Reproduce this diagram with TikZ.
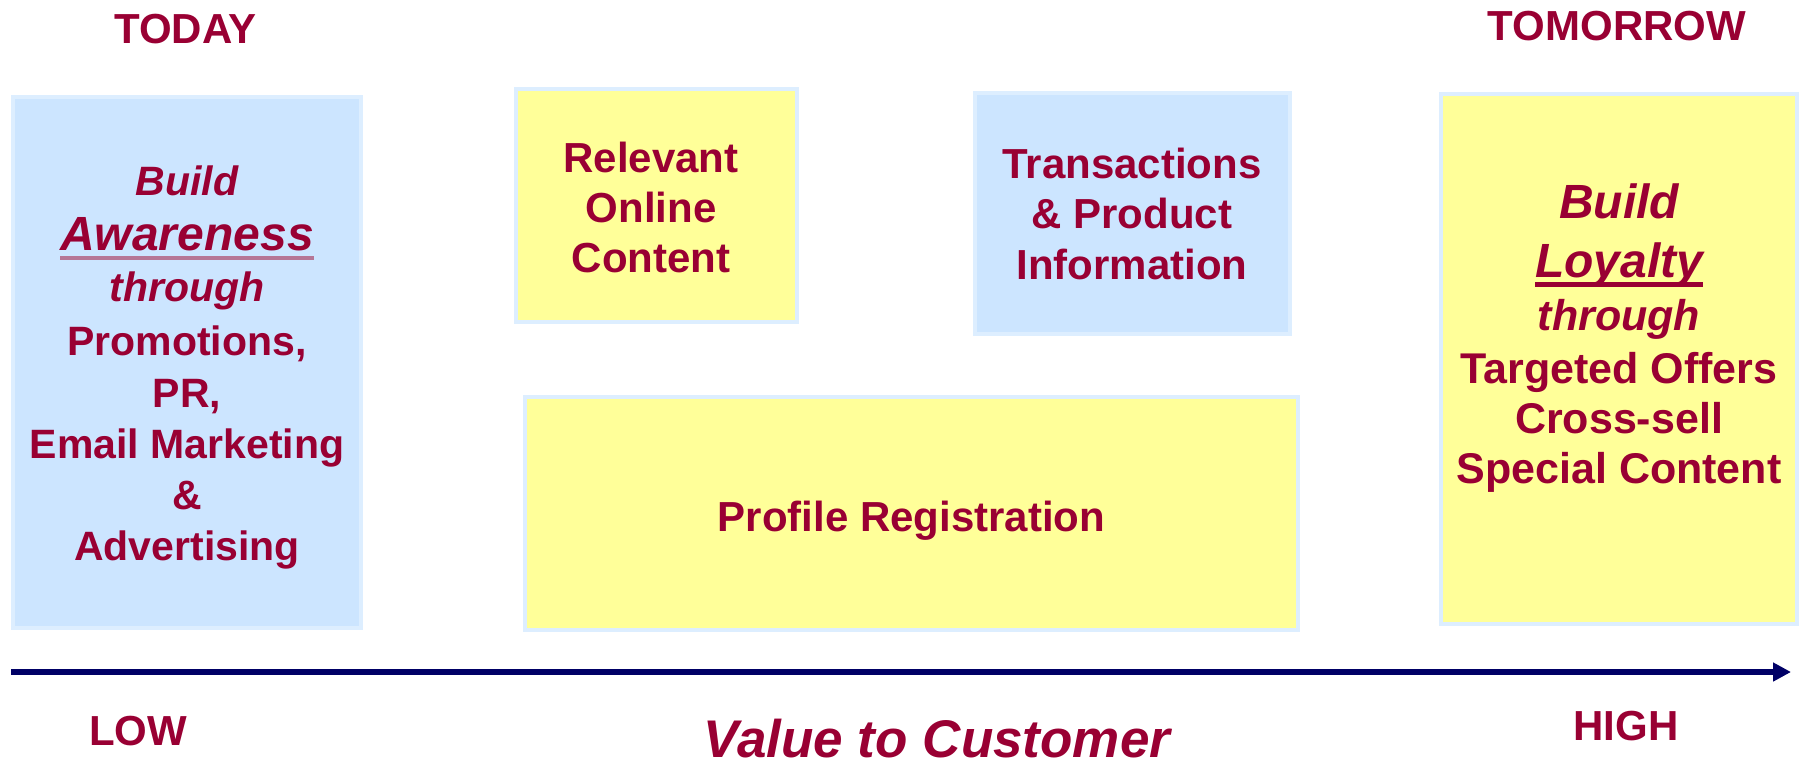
\documentclass[tikz,border=0pt]{standalone}
\usepackage{fontspec}
\setmainfont{Liberation Sans}
\usetikzlibrary{arrows.meta}
\definecolor{wine}{HTML}{990033}
\definecolor{skyfill}{HTML}{CCE5FF}
\definecolor{lemonfill}{HTML}{FFFF99}
\definecolor{paleedge}{HTML}{DDEEFF}
\definecolor{navy}{HTML}{000066}
\definecolor{mauve}{HTML}{B57696}
% underlined word: #1 rule colour, #2 rule thickness, #3 word
\newcommand{\ulword}[3]{{\setbox0\hbox{#3}\rlap{\color{#1}\rule[-5pt]{\wd0}{#2}}\box0}}
% larger italic headline words inside the panels
\newcommand{\bigword}[1]{{\fontsize{24}{25}\selectfont #1}}
\begin{document}
\begin{tikzpicture}[x=0.5pt, y=-0.5pt,
  panel/.style={draw=paleedge, line width=2pt, inner sep=0pt, outer sep=0pt},
  skypanel/.style={panel, fill=skyfill},
  lemonpanel/.style={panel, fill=lemonfill},
  % multi-line labels are placed by the baseline of their last line
  label/.style={text=wine, inner sep=0pt, outer sep=0pt, anchor=base, align=center,
    font=\bfseries\fontsize{21}{25}\selectfont},
  axis/.style={draw=navy, line width=3pt, -{Triangle[length=9pt, width=9pt]}}]
\useasboundingbox (0,0) rectangle (1802,761);

% panels
\node[skypanel, minimum width=174pt, minimum height=265.5pt] (aware) at (187,362.5) {};
\node[lemonpanel, minimum width=140.5pt, minimum height=116.5pt] (content) at (656.5,205.5) {};
\node[skypanel, minimum width=157.5pt, minimum height=120.5pt] (trans) at (1132.5,213.5) {};
\node[lemonpanel, minimum width=386.5pt, minimum height=116.5pt] (profile) at (911.5,513.5) {};
\node[lemonpanel, minimum width=178pt, minimum height=265pt] (loyal) at (1619,359) {};

% panel texts
\node[label, font=\bfseries\fontsize{20.5}{25.5}\selectfont] (awaretxt) at (187,560)
  {\itshape Build\\[2pt] \itshape\bigword{\ulword{mauve}{2pt}{Awareness}}\\ \itshape through\\[1.5pt]
   Promotions,\\[0.5pt] PR,\\ Email Marketing\\ \&\\ Advertising};
\node[label] (contenttxt) at (651,272) {Relevant\\ Online\\ Content};
\node[label, font=\bfseries\fontsize{21}{25.25}\selectfont] (transtxt) at (1132,279)
  {Transactions\\ \& Product\\ Information};
\node[label] (profiletxt) at (911.5,531) {Profile Registration};
\node[label, font=\bfseries\fontsize{21.5}{25}\selectfont] (loyaltxt) at (1619,483)
  {\itshape\bigword{Build}\\[4.5pt] \itshape\bigword{\ulword{wine}{2.5pt}{Loyalty}}\\[1.5pt] \itshape through\\[1.5pt]
   Targeted Offers\\ Cross-sell\\ Special Content};

% time labels
\node[label] (today) at (185.5,43) {TODAY};
\node[label] (tomorrow) at (1617,40) {TOMORROW};

% value axis
\coordinate (axisL) at (11,672);
\coordinate (axisR) at (1791,672);
\draw[axis] (axisL) -- (axisR);
\node[label] (low) at (138,745) {LOW};
\node[label] (high) at (1626,740) {HIGH};
\node[label, font=\bfseries\itshape\fontsize{26.5}{30}\selectfont] (value) at (937,757) {Value to Customer};
\end{tikzpicture}
\end{document}
